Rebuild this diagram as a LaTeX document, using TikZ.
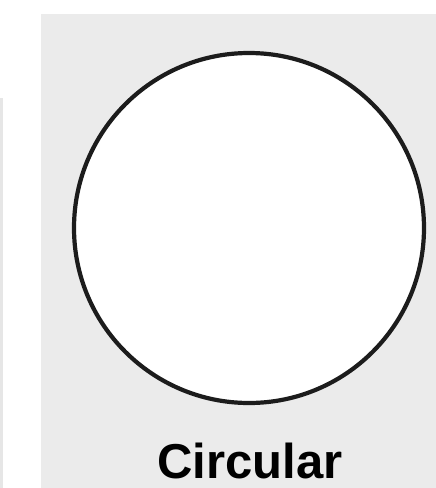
\documentclass[tikz,border=0pt]{standalone}
\usepackage{fontspec}
\setmainfont{Liberation Sans}
\usepackage{xcolor}
\definecolor{panelgray}{HTML}{EBEBEB}
\definecolor{stripgray}{HTML}{E6E6E6}
\definecolor{ringblack}{HTML}{1C1C1C}
\begin{document}
\begin{tikzpicture}[x=1pt, y=-1pt,
		panel/.style={fill=panelgray, draw=none},
		ring/.style={draw=ringblack, line width=4.2pt, circle, fill=white, minimum size=350pt, inner sep=0pt},
		caption/.style={font=\fontsize{49}{52}\selectfont\bfseries, anchor=base, inner sep=0pt}]
		\useasboundingbox (0,0) rectangle (436,488);
		\fill[white] (0,0) rectangle (436,488);
		\fill[stripgray] (0,98) rectangle (3,488);
		\fill[panelgray] (41,14) rectangle (436,488);
		\node[ring] (shape) at (249,228) {};
		\node[caption] (name) at (250,478) {Circular};
	\end{tikzpicture}
\end{document}
